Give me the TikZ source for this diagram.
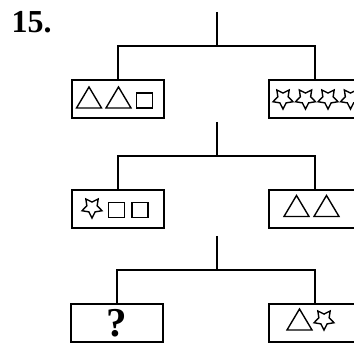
\documentclass[tikz,border=0pt]{standalone}
\usepackage{fontspec}
\setmainfont{Liberation Serif}

\begin{document}
\begin{tikzpicture}[x=1pt, y=1pt, line width=1.4pt]

% Define styles
\tikzstyle{box} = [rectangle, draw, minimum width=92pt, minimum height=38pt, inner sep=0pt]
\tikzset{
  trig/.pic={\draw (0,0) -- (25,0) -- (12.5,21) -- cycle;},
  sqr/.pic={\draw (0,0) rectangle (16,15);},
  starpic/.pic={\draw[shift={(0,10.5)}] (-90:10.5) -- (-54:5.4) -- (-18:10.5) -- (18:5.4) -- (54:10.5)
    -- (90:5.4) -- (126:10.5) -- (162:5.4) -- (198:10.5) -- (234:5.4) -- cycle;}
}

\clip (0,0) rectangle (354,344);

% Number
\node [font=\bfseries\fontsize{32}{32}\selectfont, anchor=base west, inner sep=0pt] (num) at (11,311.7) {15.};

% Level 1
\coordinate (s1) at (217,332);
\coordinate (j1) at (217,298);
\node [box] (l1) at (118,245) {};
\node [box] (r1) at (315,245) {};

% Level 2
\coordinate (s2) at (217,222);
\coordinate (j2) at (217,188);
\node [box] (l2) at (118,135) {};
\node [box] (r2) at (315,135) {};

% Level 3
\coordinate (s3) at (217,108);
\coordinate (j3) at (217,74);
\node [box, font=\bfseries\fontsize{41}{41}\selectfont] (l3) at (117,21) {?};
\node [box] (r3) at (315,21) {};

% Lines
\draw (s1) -- (j1);
\draw (l1.north) |- (j1) -| (r1.north);
\draw (s2) -- (j2);
\draw (l2.north) |- (j2) -| (r2.north);
\draw (s3) -- (j3);
\draw (l3.north) |- (j3) -| (r3.north);

% Figures in the boxes
\pic at (76.5,236) {trig};
\pic at (106,236) {trig};
\pic at (136.5,236) {sqr};
\pic at (283,235) {starpic};
\pic at (305.5,235) {starpic};
\pic at (328,235) {starpic};
\pic at (350.5,235) {starpic};

\pic at (92,126) {starpic};
\pic at (108.5,126.5) {sqr};
\pic at (131.8,126.5) {sqr};
\pic at (284,127.5) {trig};
\pic at (314,127.5) {trig};

\pic at (287,14) {trig};
\pic at (324,14) {starpic};

\end{tikzpicture}
\end{document}
